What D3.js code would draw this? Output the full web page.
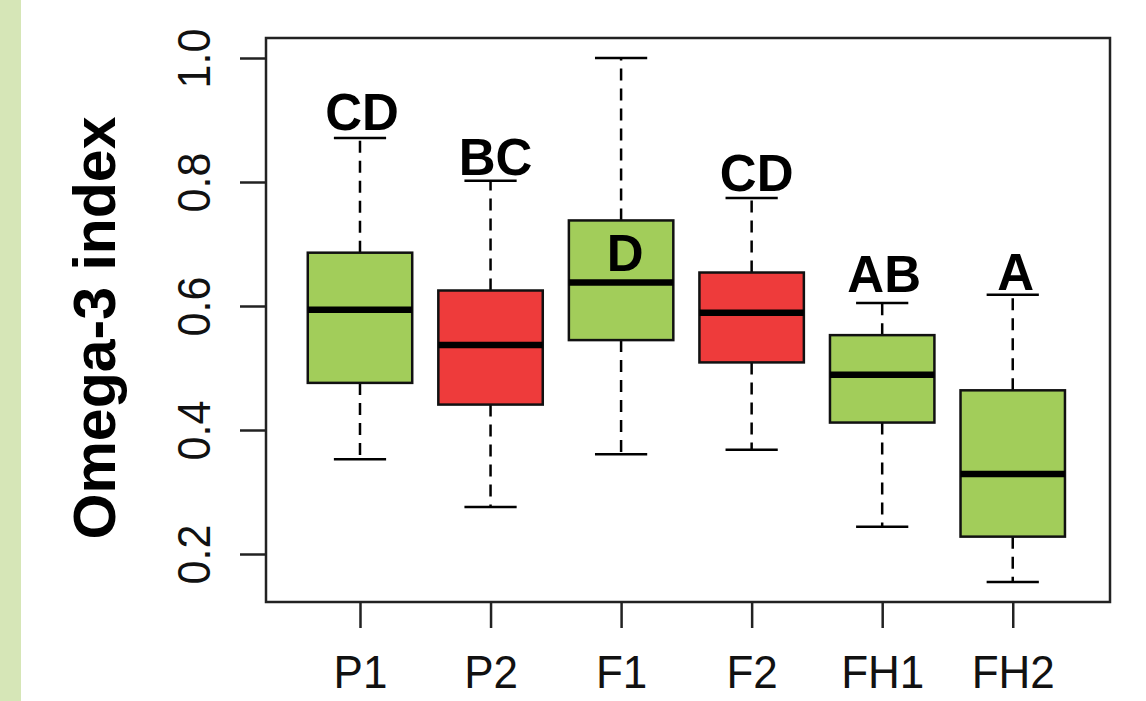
<!DOCTYPE html>
<meta charset="utf-8">
<style>
body { margin: 0; background: #fff; }
text { font-family: "Liberation Sans", Arial, sans-serif; }
</style>
<body>
<svg width="1146" height="701"></svg>
</body>
<script src="https://d3js.org/d3.v7.min.js"></script>
<script>

// groups and their box statistics
var groups   = ["P1", "P2", "F1", "F2", "FH1", "FH2"];
var lowWhisk = [0.353, 0.276, 0.361, 0.368, 0.244, 0.155];
var q1       = [0.476, 0.441, 0.545, 0.509, 0.412, 0.228];
var medians  = [0.594, 0.537, 0.638, 0.589, 0.489, 0.329];
var q3       = [0.686, 0.625, 0.738, 0.654, 0.553, 0.464];
var upWhisk  = [0.871, 0.802, 1.000, 0.774, 0.605, 0.618];
var fills    = ["#a2cd5a", "#ee3b3b", "#a2cd5a", "#ee3b3b", "#a2cd5a", "#a2cd5a"];

// significance letters and the value their baseline sits at
var letters  = ["CD", "BC", "D", "CD", "AB", "A"];
var letterY  = [0.884, 0.811, 0.657, 0.785, 0.623, 0.626];
var letterDx = [2, 5, 4, 5, 2, 3];

var yTicks = [0.2, 0.4, 0.6, 0.8, 1.0];

var svg = d3.select("svg");

// light green strip on the left edge
svg.append("rect").attr("x", 0).attr("y", 0).attr("width", 21).attr("height", 701)
    .attr("fill", "#d6e6b7");

// plot region (note: "top" is taken by window.top, so use other names)
var pl = 266, pr = 1110, pt = 38, pb = 602;
var lw = 2.5;

var x = d3.scaleLinear().domain([0.28, 6.745]).range([pl, pr]);
var y = d3.scaleLinear().domain([0.2, 1.0]).range([554, 58]);

var boxW = x(1.4) - x(1);   // half box width (0.4 units)
var capW = x(1.2) - x(1);   // half staple width

var data = groups.map(function(g, i) {
  return {name: g, i: i + 1, lo: lowWhisk[i], q1: q1[i], med: medians[i], q3: q3[i],
          hi: upWhisk[i], fill: fills[i], lab: letters[i], labY: letterY[i], dx: letterDx[i]};
});

var g = svg.append("g");

var box = g.selectAll("g.box").data(data).enter().append("g").attr("class", "box");

// whiskers
box.append("line")
    .attr("x1", function(d) { return x(d.i); }).attr("x2", function(d) { return x(d.i); })
    .attr("y1", function(d) { return y(d.q3); }).attr("y2", function(d) { return y(d.hi); })
    .attr("stroke", "#000").attr("stroke-width", lw).attr("stroke-dasharray", "12,8");
box.append("line")
    .attr("x1", function(d) { return x(d.i); }).attr("x2", function(d) { return x(d.i); })
    .attr("y1", function(d) { return y(d.q1); }).attr("y2", function(d) { return y(d.lo); })
    .attr("stroke", "#000").attr("stroke-width", lw).attr("stroke-dasharray", "12,8");

// staples
box.append("line")
    .attr("x1", function(d) { return x(d.i) - capW; }).attr("x2", function(d) { return x(d.i) + capW; })
    .attr("y1", function(d) { return y(d.hi); }).attr("y2", function(d) { return y(d.hi); })
    .attr("stroke", "#000").attr("stroke-width", lw);
box.append("line")
    .attr("x1", function(d) { return x(d.i) - capW; }).attr("x2", function(d) { return x(d.i) + capW; })
    .attr("y1", function(d) { return y(d.lo); }).attr("y2", function(d) { return y(d.lo); })
    .attr("stroke", "#000").attr("stroke-width", lw);

// boxes
box.append("rect")
    .attr("x", function(d) { return x(d.i) - boxW; })
    .attr("y", function(d) { return y(d.q3); })
    .attr("width", boxW * 2)
    .attr("height", function(d) { return y(d.q1) - y(d.q3); })
    .attr("fill", function(d) { return d.fill; })
    .attr("stroke", "#111").attr("stroke-width", lw);

// medians
box.append("line")
    .attr("x1", function(d) { return x(d.i) - boxW; }).attr("x2", function(d) { return x(d.i) + boxW; })
    .attr("y1", function(d) { return y(d.med); }).attr("y2", function(d) { return y(d.med); })
    .attr("stroke", "#000").attr("stroke-width", 6.5);

// letters
box.append("text")
    .attr("x", function(d) { return x(d.i) + d.dx; })
    .attr("y", function(d) { return y(d.labY); })
    .attr("text-anchor", "middle")
    .attr("font-weight", "bold").attr("font-size", 51)
    .text(function(d) { return d.lab; });

// frame
svg.append("rect").attr("x", pl).attr("y", pt).attr("width", pr - pl).attr("height", pb - pt)
    .attr("fill", "none").attr("stroke", "#222").attr("stroke-width", lw);

// y axis
var yAxis = svg.append("g").attr("transform", "translate(" + pl + ",0)")
    .call(d3.axisLeft(y).tickValues(yTicks).tickFormat(d3.format(".1f")).tickSize(26).tickPadding(0));
yAxis.select(".domain").remove();
yAxis.selectAll(".tick line").attr("stroke", "#222").attr("stroke-width", lw);
yAxis.selectAll(".tick text")
    .attr("x", null).attr("dy", null)
    .attr("transform", "translate(-56,0) rotate(-90) scale(1,1.06)")
    .attr("text-anchor", "middle")
    .attr("font-size", 43).attr("fill", "#111");

// x axis
var xAxis = svg.append("g").attr("transform", "translate(0," + pb + ")")
    .call(d3.axisBottom(x).tickValues(d3.range(1, 7)).tickFormat(function(d) { return groups[d - 1]; })
    .tickSize(26).tickPadding(0));
xAxis.select(".domain").remove();
xAxis.selectAll(".tick line").attr("stroke", "#222").attr("stroke-width", lw);
xAxis.selectAll(".tick text")
    .attr("dy", null).attr("y", 0)
    .attr("transform", "translate(0,86) scale(1,1.06)")
    .attr("font-size", 44).attr("fill", "#111");

// y title
svg.append("text")
    .attr("transform", "translate(115,328) rotate(-90)")
    .attr("text-anchor", "middle")
    .attr("font-weight", "bold").attr("font-size", 59)
    .text("Omega-3 index");

</script>
